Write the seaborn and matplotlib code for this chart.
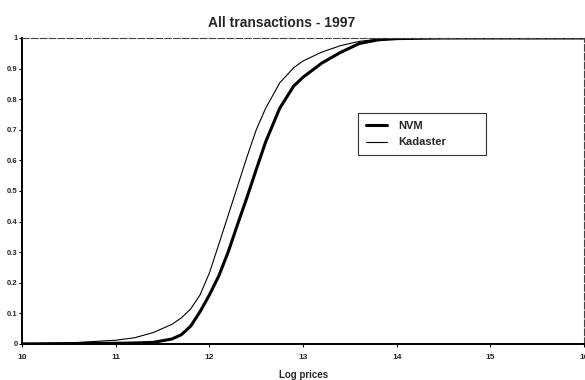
import matplotlib
matplotlib.use("Agg")
import matplotlib.pyplot as plt
import seaborn as sns
import pandas as pd

# Cumulative distribution of log transaction prices, 1997
log_price = [10.0, 10.5, 11.0, 11.2, 11.4, 11.6, 11.7, 11.8, 11.9,
             12.0, 12.1, 12.2, 12.3, 12.4, 12.5, 12.6, 12.75, 12.9, 13.0,
             13.2, 13.4, 13.6, 13.8, 14.0, 14.5, 15.0, 16.0]
nvm = [0.0, 0.001, 0.002, 0.003, 0.005, 0.016, 0.030, 0.058, 0.105,
       0.160, 0.222, 0.300, 0.390, 0.478, 0.570, 0.660, 0.770, 0.843, 0.872,
       0.918, 0.953, 0.982, 0.994, 0.998, 1.0, 1.0, 1.0]
kadaster = [0.0, 0.003, 0.012, 0.020, 0.037, 0.064, 0.085, 0.114, 0.160,
            0.232, 0.325, 0.420, 0.515, 0.610, 0.700, 0.770, 0.853, 0.903, 0.925,
            0.954, 0.975, 0.989, 0.996, 0.999, 1.0, 1.0, 1.0]

x_ticks = [10, 11, 12, 13, 14, 15, 16]
y_ticks = [0, 0.1, 0.2, 0.3, 0.4, 0.5, 0.6, 0.7, 0.8, 0.9, 1]
y_tick_labels = ["0", "0.1", "0.2", "0.3", "0.4", "0.5", "0.6", "0.7", "0.8", "0.9", "1"]

sns.set_style("white")
plt.rcParams["font.family"] = ["Liberation Sans", "DejaVu Sans"]

df = pd.DataFrame({"Log prices": log_price, "NVM": nvm, "Kadaster": kadaster})

fig = plt.figure(figsize=(5.85, 3.8), dpi=100)
ax = fig.add_axes([0.0376, 0.095, 0.961, 0.805])

sns.lineplot(data=df, x="Log prices", y="NVM", ax=ax, color="black",
             linewidth=2.2, label="NVM")
sns.lineplot(data=df, x="Log prices", y="Kadaster", ax=ax, color="black",
             linewidth=0.8, label="Kadaster")

ax.set_xlim(10, 16)
ax.set_ylim(0, 1)
ax.set_xticks(x_ticks)
ax.set_xticklabels([str(t) for t in x_ticks], fontsize=6, fontweight="bold")
ax.set_yticks(y_ticks)
ax.set_yticklabels(y_tick_labels, fontsize=5.5, fontweight="bold")
ax.tick_params(axis="both", direction="out", length=2, width=0.8,
               color="black", bottom=True, left=True)
ax.tick_params(axis="y", pad=1)
ax.tick_params(axis="x", pad=5)

ax.set_xlabel("Log prices", fontsize=7, fontweight="bold", labelpad=7)
ax.set_ylabel("")
fig.text(0.481, 0.929, "All transactions - 1997", fontsize=10,
         fontweight="bold", ha="center", va="baseline")

for side in ("left", "bottom"):
    ax.spines[side].set_color("black")
    ax.spines[side].set_linewidth(1.4)
for side in ("top", "right"):
    ax.spines[side].set_color("#444444")
    ax.spines[side].set_linewidth(0.8)
    ax.spines[side].set_linestyle((0, (6, 2)))

# Legend box spanning a fixed width, entries left-aligned inside it
leg = ax.legend(loc="upper left", bbox_to_anchor=(0.5985, 0.615, 0.226, 0.14),
                mode="expand", frameon=True, fancybox=False, fontsize=8,
                handlelength=1.9, borderpad=0.7, labelspacing=0.6,
                handletextpad=1.0, borderaxespad=0)
leg.get_frame().set_edgecolor("black")
leg.get_frame().set_linewidth(0.8)
for t in leg.get_texts():
    t.set_fontweight("bold")

fig.savefig("out.png", dpi=100)
